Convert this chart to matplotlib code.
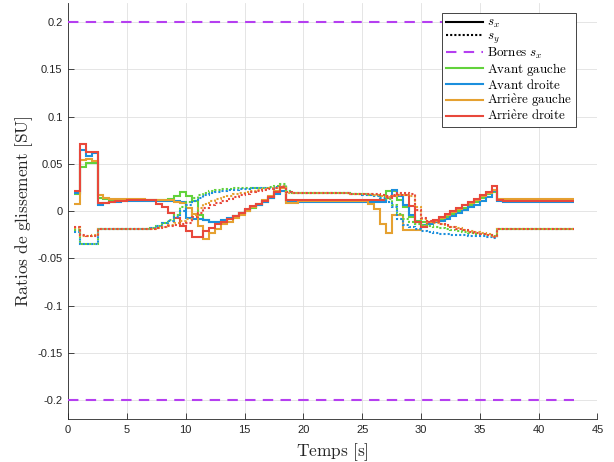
import numpy as np
import matplotlib
matplotlib.use("Agg")
import matplotlib.pyplot as plt
from matplotlib.lines import Line2D

# ---------------- data (0.5 s zero-order-hold samples, from t = 0.5 s to 43 s) ----------------
t_start = 0.5
t_end = 43.0
dt = 0.5

# s_x (solid)
sx_avant_gauche = (
    [0.018, 0.047, 0.051, 0.051, 0.014, 0.013, 0.012, 0.012, 0.012] +
    [0.012, 0.012, 0.012, 0.012, 0.012, 0.012, 0.012, 0.013, 0.016, 0.020] +
    [0.016, 0.011, -0.004, -0.009, -0.012, -0.012, -0.010, -0.008, -0.005, -0.002] +
    [0.000, 0.003, 0.006, 0.010, 0.014, 0.019, 0.026, 0.012, 0.011, 0.011] +
    [0.011, 0.011, 0.011, 0.011, 0.011, 0.011, 0.011, 0.011, 0.011, 0.011] +
    [0.011, 0.011, 0.011, 0.012, 0.021, 0.021, 0.012, 0.004, -0.006, -0.010] +
    [-0.011, -0.012, -0.011, -0.009, -0.006, -0.003, 0.000, 0.003, 0.006, 0.010] +
    [0.014, 0.018, 0.020, 0.012, 0.012, 0.012, 0.012, 0.012, 0.012, 0.012] +
    [0.012, 0.012, 0.012, 0.012, 0.012, 0.012]
)
sx_avant_droite = (
    [0.019, 0.065, 0.058, 0.062, 0.007, 0.009, 0.010, 0.010, 0.011] +
    [0.011, 0.011, 0.011, 0.011, 0.011, 0.011, 0.011, 0.011, 0.011, 0.010] +
    [-0.007, -0.008, -0.008, -0.009, -0.011, -0.011, -0.009, -0.007, -0.005, -0.002] +
    [0.001, 0.004, 0.007, 0.010, 0.014, 0.018, 0.021, 0.010, 0.010, 0.010] +
    [0.010, 0.010, 0.010, 0.010, 0.010, 0.010, 0.010, 0.010, 0.010, 0.010] +
    [0.010, 0.010, 0.010, 0.010, 0.014, 0.022, 0.016, 0.007, -0.004, -0.012] +
    [-0.015, -0.014, -0.012, -0.010, -0.008, -0.005, -0.002, 0.001, 0.004, 0.007] +
    [0.011, 0.015, 0.021, 0.011, 0.010, 0.010, 0.010, 0.010, 0.010, 0.010] +
    [0.010, 0.010, 0.010, 0.010, 0.010, 0.010]
)
sx_arriere_gauche = (
    [0.0076, 0.054, 0.055, 0.053, 0.017, 0.014, 0.013, 0.013, 0.013] +
    [0.013, 0.013, 0.013, 0.012, 0.012, 0.012, 0.012, 0.012, 0.010, 0.009] +
    [0.003, -0.003, -0.016, -0.030, -0.023, -0.019, -0.014, -0.011, -0.007, -0.004] +
    [0.000, 0.004, 0.008, 0.012, 0.016, 0.021, 0.024, 0.009, 0.009, 0.011] +
    [0.011, 0.011, 0.011, 0.011, 0.011, 0.011, 0.011, 0.011, 0.011, 0.011] +
    [0.011, 0.008, 0.002, -0.014, -0.023, -0.004, -0.004, -0.020, -0.020, -0.020] +
    [-0.016, -0.012, -0.010, -0.007, -0.004, -0.001, 0.002, 0.006, 0.009, 0.012] +
    [0.016, 0.019, 0.022, 0.013, 0.013, 0.013, 0.013, 0.013, 0.013, 0.013] +
    [0.013, 0.013, 0.013, 0.013, 0.013, 0.013]
)
sx_arriere_droite = (
    [0.021, 0.071, 0.063, 0.063, 0.009, 0.009, 0.010, 0.011, 0.011] +
    [0.012, 0.012, 0.012, 0.012, 0.012, 0.008, 0.004, -0.002, -0.007, -0.016] +
    [-0.021, -0.027, -0.027, -0.021, -0.018, -0.014, -0.011, -0.008, -0.005, -0.002] +
    [0.002, 0.005, 0.008, 0.011, 0.015, 0.020, 0.026, 0.012, 0.012, 0.012] +
    [0.012, 0.012, 0.012, 0.012, 0.012, 0.012, 0.012, 0.012, 0.012, 0.012] +
    [0.012, 0.012, 0.012, 0.012, 0.014, 0.016, 0.017, 0.017, 0.005, -0.012] +
    [-0.017, -0.012, -0.009, -0.006, -0.003, 0.000, 0.003, 0.007, 0.010, 0.013] +
    [0.017, 0.020, 0.027, 0.012, 0.011, 0.011, 0.011, 0.011, 0.011, 0.011] +
    [0.011, 0.011, 0.011, 0.011, 0.011, 0.011]
)

# s_y (dotted)
sy_avant_gauche = (
    [-0.020, -0.035, -0.035, -0.035, -0.019, -0.019, -0.019, -0.019, -0.019] +
    [-0.019, -0.019, -0.019, -0.019, -0.018, -0.016, -0.013, -0.009, -0.004, 0.004] +
    [0.010, 0.014, 0.017, 0.019, 0.021, 0.022, 0.023, 0.023, 0.024, 0.024] +
    [0.024, 0.025, 0.025, 0.025, 0.026, 0.027, 0.029, 0.021, 0.019, 0.019] +
    [0.019, 0.019, 0.019, 0.019, 0.019, 0.019, 0.019, 0.019, 0.018, 0.018] +
    [0.018, 0.017, 0.017, 0.016, 0.013, 0.006, -0.003, -0.008, -0.012, -0.014] +
    [-0.015, -0.016, -0.017, -0.018, -0.019, -0.020, -0.021, -0.022, -0.023, -0.024] +
    [-0.024, -0.025, -0.026, -0.019, -0.019, -0.019, -0.019, -0.019, -0.019, -0.019] +
    [-0.019, -0.019, -0.019, -0.019, -0.019, -0.019]
)
sy_avant_droite = (
    [-0.022, -0.035, -0.035, -0.035, -0.019, -0.019, -0.019, -0.019, -0.019] +
    [-0.019, -0.019, -0.019, -0.019, -0.018, -0.016, -0.013, -0.010, -0.006, 0.000] +
    [0.007, 0.011, 0.014, 0.017, 0.019, 0.020, 0.021, 0.022, 0.022, 0.023] +
    [0.023, 0.024, 0.024, 0.025, 0.025, 0.026, 0.027, 0.020, 0.019, 0.019] +
    [0.019, 0.019, 0.019, 0.019, 0.019, 0.019, 0.019, 0.019, 0.018, 0.018] +
    [0.017, 0.017, 0.016, 0.014, 0.010, 0.004, -0.008, -0.015, -0.017, -0.019] +
    [-0.021, -0.022, -0.023, -0.024, -0.024, -0.025, -0.025, -0.025, -0.026, -0.026] +
    [-0.026, -0.027, -0.028, -0.019, -0.019, -0.019, -0.019, -0.019, -0.019, -0.019] +
    [-0.019, -0.019, -0.019, -0.019, -0.019, -0.019]
)
sy_arriere_gauche = (
    [-0.018, -0.026, -0.026, -0.025, -0.019, -0.019, -0.019, -0.019, -0.019] +
    [-0.019, -0.019, -0.019, -0.019, -0.019, -0.018, -0.017, -0.015, -0.013, -0.010] +
    [-0.008, -0.004, 0.003, 0.008, 0.011, 0.013, 0.015, 0.016, 0.018, 0.019] +
    [0.020, 0.021, 0.022, 0.023, 0.024, 0.025, 0.027, 0.019, 0.019, 0.019] +
    [0.019, 0.019, 0.019, 0.019, 0.019, 0.019, 0.019, 0.019, 0.018, 0.018] +
    [0.018, 0.018, 0.017, 0.016, 0.015, 0.016, 0.017, 0.017, 0.016, 0.004] +
    [-0.008, -0.011, -0.013, -0.014, -0.016, -0.017, -0.018, -0.020, -0.021, -0.022] +
    [-0.023, -0.024, -0.026, -0.019, -0.019, -0.019, -0.019, -0.019, -0.019, -0.019] +
    [-0.019, -0.019, -0.019, -0.019, -0.019, -0.019]
)
sy_arriere_droite = (
    [-0.017, -0.025, -0.026, -0.026, -0.019, -0.019, -0.019, -0.019, -0.019] +
    [-0.019, -0.019, -0.019, -0.019, -0.019, -0.018, -0.017, -0.016, -0.015, -0.014] +
    [-0.013, -0.006, -0.002, 0.003, 0.007, 0.009, 0.011, 0.013, 0.015, 0.017] +
    [0.018, 0.020, 0.021, 0.022, 0.023, 0.024, 0.026, 0.020, 0.019, 0.019] +
    [0.019, 0.019, 0.019, 0.019, 0.019, 0.019, 0.019, 0.019, 0.018, 0.018] +
    [0.018, 0.018, 0.018, 0.017, 0.016, 0.017, 0.019, 0.019, 0.018, 0.001] +
    [-0.007, -0.010, -0.012, -0.014, -0.015, -0.017, -0.019, -0.020, -0.022, -0.023] +
    [-0.024, -0.025, -0.027, -0.019, -0.019, -0.019, -0.019, -0.019, -0.019, -0.019] +
    [-0.019, -0.019, -0.019, -0.019, -0.019, -0.019]
)

bound_sx = 0.2
bound_t = [0.0, 43.0]

wheel_labels = [r"$\mathrm{Avant\ gauche}$", r"$\mathrm{Avant\ droite}$",
                r"$\mathrm{Arri\grave{e}re\ gauche}$", r"$\mathrm{Arri\grave{e}re\ droite}$"]
x_ticks = [0, 5, 10, 15, 20, 25, 30, 35, 40, 45]
y_ticks = [-0.2, -0.15, -0.1, -0.05, 0, 0.05, 0.1, 0.15, 0.2]
y_tick_labels = ["-0.2", "-0.15", "-0.1", "-0.05", "0", "0.05", "0.1", "0.15", "0.2"]

# ---------------- style ----------------
colors = ["#62d23c", "#1b8fdd", "#e5a131", "#e8483b"]
purple = "#b53ff0"

plt.rcParams["mathtext.fontset"] = "cm"
plt.rcParams["font.family"] = ["cmr10", "DejaVu Serif"]
plt.rcParams["axes.unicode_minus"] = False

fig = plt.figure(figsize=(6.14, 4.62), dpi=100)
ax = fig.add_axes([0.111, 0.093, 0.862, 0.900])

edges = np.arange(t_start, t_end + dt / 2, dt)

sx_all = [sx_avant_gauche, sx_avant_droite, sx_arriere_gauche, sx_arriere_droite]
sy_all = [sy_avant_gauche, sy_avant_droite, sy_arriere_gauche, sy_arriere_droite]

dot_style = (0, (1, 1.0))
for vals, c in zip(sx_all, colors):
    ax.stairs(vals, edges, color=c, lw=1.5, baseline=None, zorder=3)
for vals, c in zip(sy_all, colors):
    ax.stairs(vals, edges, color=c, lw=1.5, baseline=None, linestyle=dot_style, zorder=3)

ax.plot(bound_t, [bound_sx, bound_sx], color=purple, lw=1.5, linestyle=(0, (5, 3.5)), zorder=3)
ax.plot(bound_t, [-bound_sx, -bound_sx], color=purple, lw=1.5, linestyle=(0, (5, 3.5)), zorder=3)

ax.set_xlim(0, 45)
ax.set_ylim(-0.22, 0.22)
ax.set_xticks(x_ticks)
ax.set_yticks(y_ticks)
ax.set_xticklabels([str(v) for v in x_ticks], family="Liberation Sans", fontsize=8, color="#262626")
ax.set_yticklabels(y_tick_labels, family="Liberation Sans", fontsize=8, color="#262626")
ax.tick_params(direction="in", length=4, width=0.6, color="#262626", pad=4)
for s in ["top", "right"]:
    ax.spines[s].set_visible(False)
for s in ["left", "bottom"]:
    ax.spines[s].set_color("#262626")
    ax.spines[s].set_linewidth(0.6)
ax.grid(True, color="#e0e0e0", lw=0.6, zorder=0)
ax.set_axisbelow(True)

ax.set_xlabel(r"$\mathrm{Temps\ [s]}$", fontsize=12.5, color="#262626", labelpad=5)
ax.set_ylabel(r"$\mathrm{Ratios\ de\ glissement\ [SU]}$", fontsize=12.5, color="#262626", labelpad=2)

handles = [
    Line2D([], [], color="black", lw=1.5),
    Line2D([], [], color="black", lw=1.5, linestyle=dot_style),
    Line2D([], [], color=purple, lw=1.5, linestyle=(0, (5, 3.5))),
] + [Line2D([], [], color=c, lw=1.5) for c in colors]
labels = [r"$s_x$", r"$s_y$", r"$\mathrm{Bornes}\ s_x$"] + wheel_labels

leg = ax.legend(handles, labels, loc="upper right", bbox_to_anchor=(0.959, 0.976),
                fontsize=9.4, handlelength=2.85, handletextpad=0.28, labelspacing=0.0,
                borderpad=0.3, borderaxespad=0.0, fancybox=False, framealpha=1,
                edgecolor="#262626")
leg.get_frame().set_linewidth(0.6)

fig.savefig("out.png", dpi=100)
